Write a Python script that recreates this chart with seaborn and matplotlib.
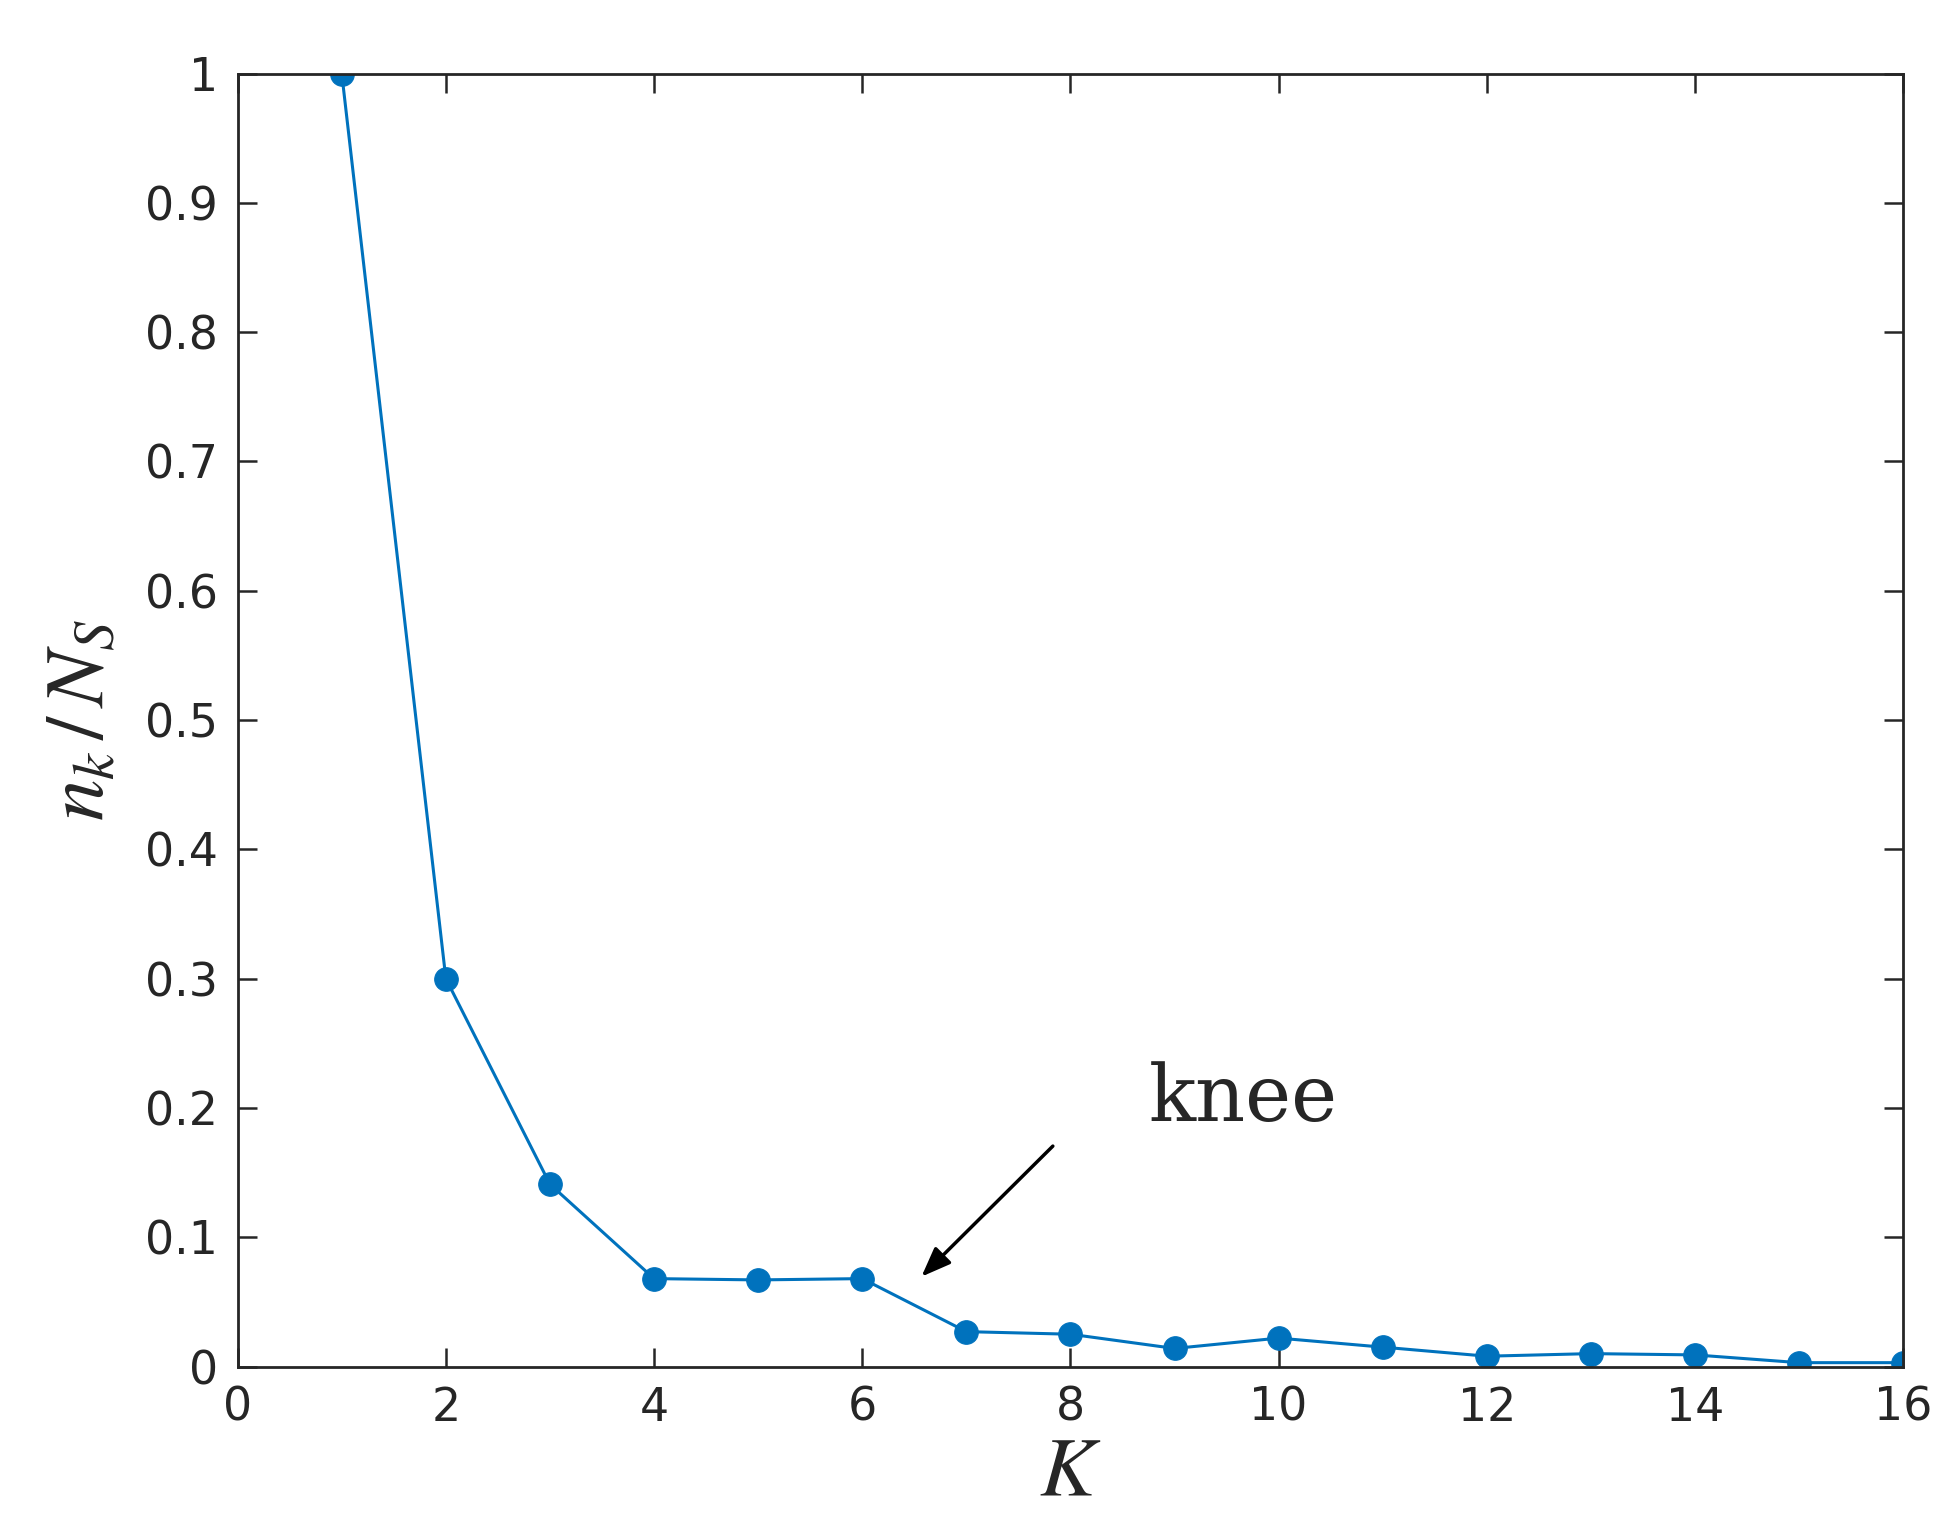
import numpy as np
import pandas as pd
import seaborn as sns
import matplotlib.pyplot as plt

k_values = list(range(1, 17))
ratio = [1.0, 0.3, 0.141, 0.068, 0.067, 0.068, 0.027, 0.025,
         0.014, 0.022, 0.015, 0.008, 0.010, 0.009, 0.003, 0.003]
x_ticks = list(range(0, 17, 2))
y_ticks = [0, 0.1, 0.2, 0.3, 0.4, 0.5, 0.6, 0.7, 0.8, 0.9, 1]
y_labels = ["0", "0.1", "0.2", "0.3", "0.4", "0.5", "0.6", "0.7", "0.8", "0.9", "1"]

df = pd.DataFrame({"K": k_values, "ratio": ratio})

sns.set_style("ticks")
plt.rcParams["font.family"] = ["DejaVu Sans"]
plt.rcParams["mathtext.fontset"] = "stix"

fig = plt.figure(figsize=(19.48, 15.32), dpi=100)
ax = fig.add_axes([0.122, 0.108, 0.855, 0.844])
sns.lineplot(data=df, x="K", y="ratio", ax=ax, color="#0072BD", linewidth=2.2,
             marker="o", markersize=17, markeredgecolor="#0072BD")

ax.set_xlim(0, 16)
ax.set_ylim(0, 1)
ax.set_xticks(x_ticks)
ax.set_yticks(y_ticks)
ax.set_yticklabels(y_labels)
ax.tick_params(direction="in", length=14, width=1.8, labelsize=33,
               top=True, right=True, pad=14, colors="#262626")
for s in ax.spines.values():
    s.set_linewidth(2)
    s.set_color("#262626")

ax.set_xlabel("$K$", fontsize=60, labelpad=0)
ax.set_ylabel("$n_k\\,/\\,N_S$", fontsize=60, labelpad=18)

ax.annotate("", xy=(6.55, 0.068), xytext=(7.85, 0.172),
            arrowprops=dict(arrowstyle="-|>,head_length=1.8,head_width=0.7",
                            color="black", lw=2.5))
ax.text(8.75, 0.19, "knee", fontsize=56, family="serif")

fig.savefig("out.png", dpi=100)
